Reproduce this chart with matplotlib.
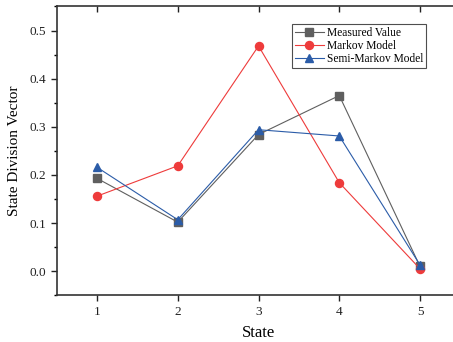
import matplotlib
matplotlib.use("Agg")
import matplotlib.pyplot as plt
from matplotlib.ticker import MultipleLocator

states = [1, 2, 3, 4, 5]
measured = [0.193, 0.102, 0.284, 0.365, 0.010]
markov = [0.156, 0.219, 0.468, 0.184, 0.005]
semi_markov = [0.216, 0.107, 0.294, 0.281, 0.013]

series_labels = ["Measured Value", "Markov Model", "Semi-Markov Model"]
y_ticks = [0.0, 0.1, 0.2, 0.3, 0.4, 0.5]

plt.rcParams["font.family"] = ["Liberation Serif", "DejaVu Serif"]

fig = plt.figure(figsize=(4.53, 3.42), dpi=100)
ax = fig.add_axes([0.125, 0.1365, 0.8914, 0.8445])

gray = "#5f5f5f"
red = "#ee3b3b"
blue = "#2b5ca8"

ax.plot(states, measured, color=gray, lw=0.8, marker="s", ms=5.2,
        label=series_labels[0], zorder=3)
ax.plot(states, markov, color=red, lw=0.8, marker="o", ms=5.8,
        label=series_labels[1], zorder=3)
ax.plot(states, semi_markov, color=blue, lw=0.8, marker="^", ms=6.0,
        label=series_labels[2], zorder=4)

ax.set_xlim(0.5, 5.5)
ax.set_ylim(-0.05, 0.55)
ax.set_xticks(states)
ax.set_yticks(y_ticks)
ax.yaxis.set_minor_locator(MultipleLocator(0.05))
ax.set_yticklabels([f"{v:.1f}" for v in y_ticks])

for side in ["left", "bottom", "top", "right"]:
    ax.spines[side].set_linewidth(1.2)
    ax.spines[side].set_color("#333333")

ax.tick_params(axis="both", which="major", direction="out", length=4,
               width=1.0, labelsize=9.5, colors="#222222")
ax.tick_params(axis="y", which="minor", direction="out", length=2.5, width=1.0)
ax.tick_params(axis="x", which="major", top=True, labeltop=False)
# mirrored ticks on the top spine point inward
for tick in ax.xaxis.get_major_ticks():
    tick.tick2line.set_marker(matplotlib.lines.TICKDOWN)

ax.set_xlabel("State", fontsize=12, labelpad=5)
ax.set_ylabel("State Division Vector", fontsize=11, labelpad=6)

leg = ax.legend(loc="upper left", bbox_to_anchor=(0.583, 0.94),
                fontsize=8.3, frameon=True, fancybox=False,
                edgecolor="#222222", handlelength=2.5, handletextpad=0.3,
                borderpad=0.25, labelspacing=0.12, borderaxespad=0.0)
leg.get_frame().set_linewidth(0.8)

fig.savefig("out.png", dpi=100)
